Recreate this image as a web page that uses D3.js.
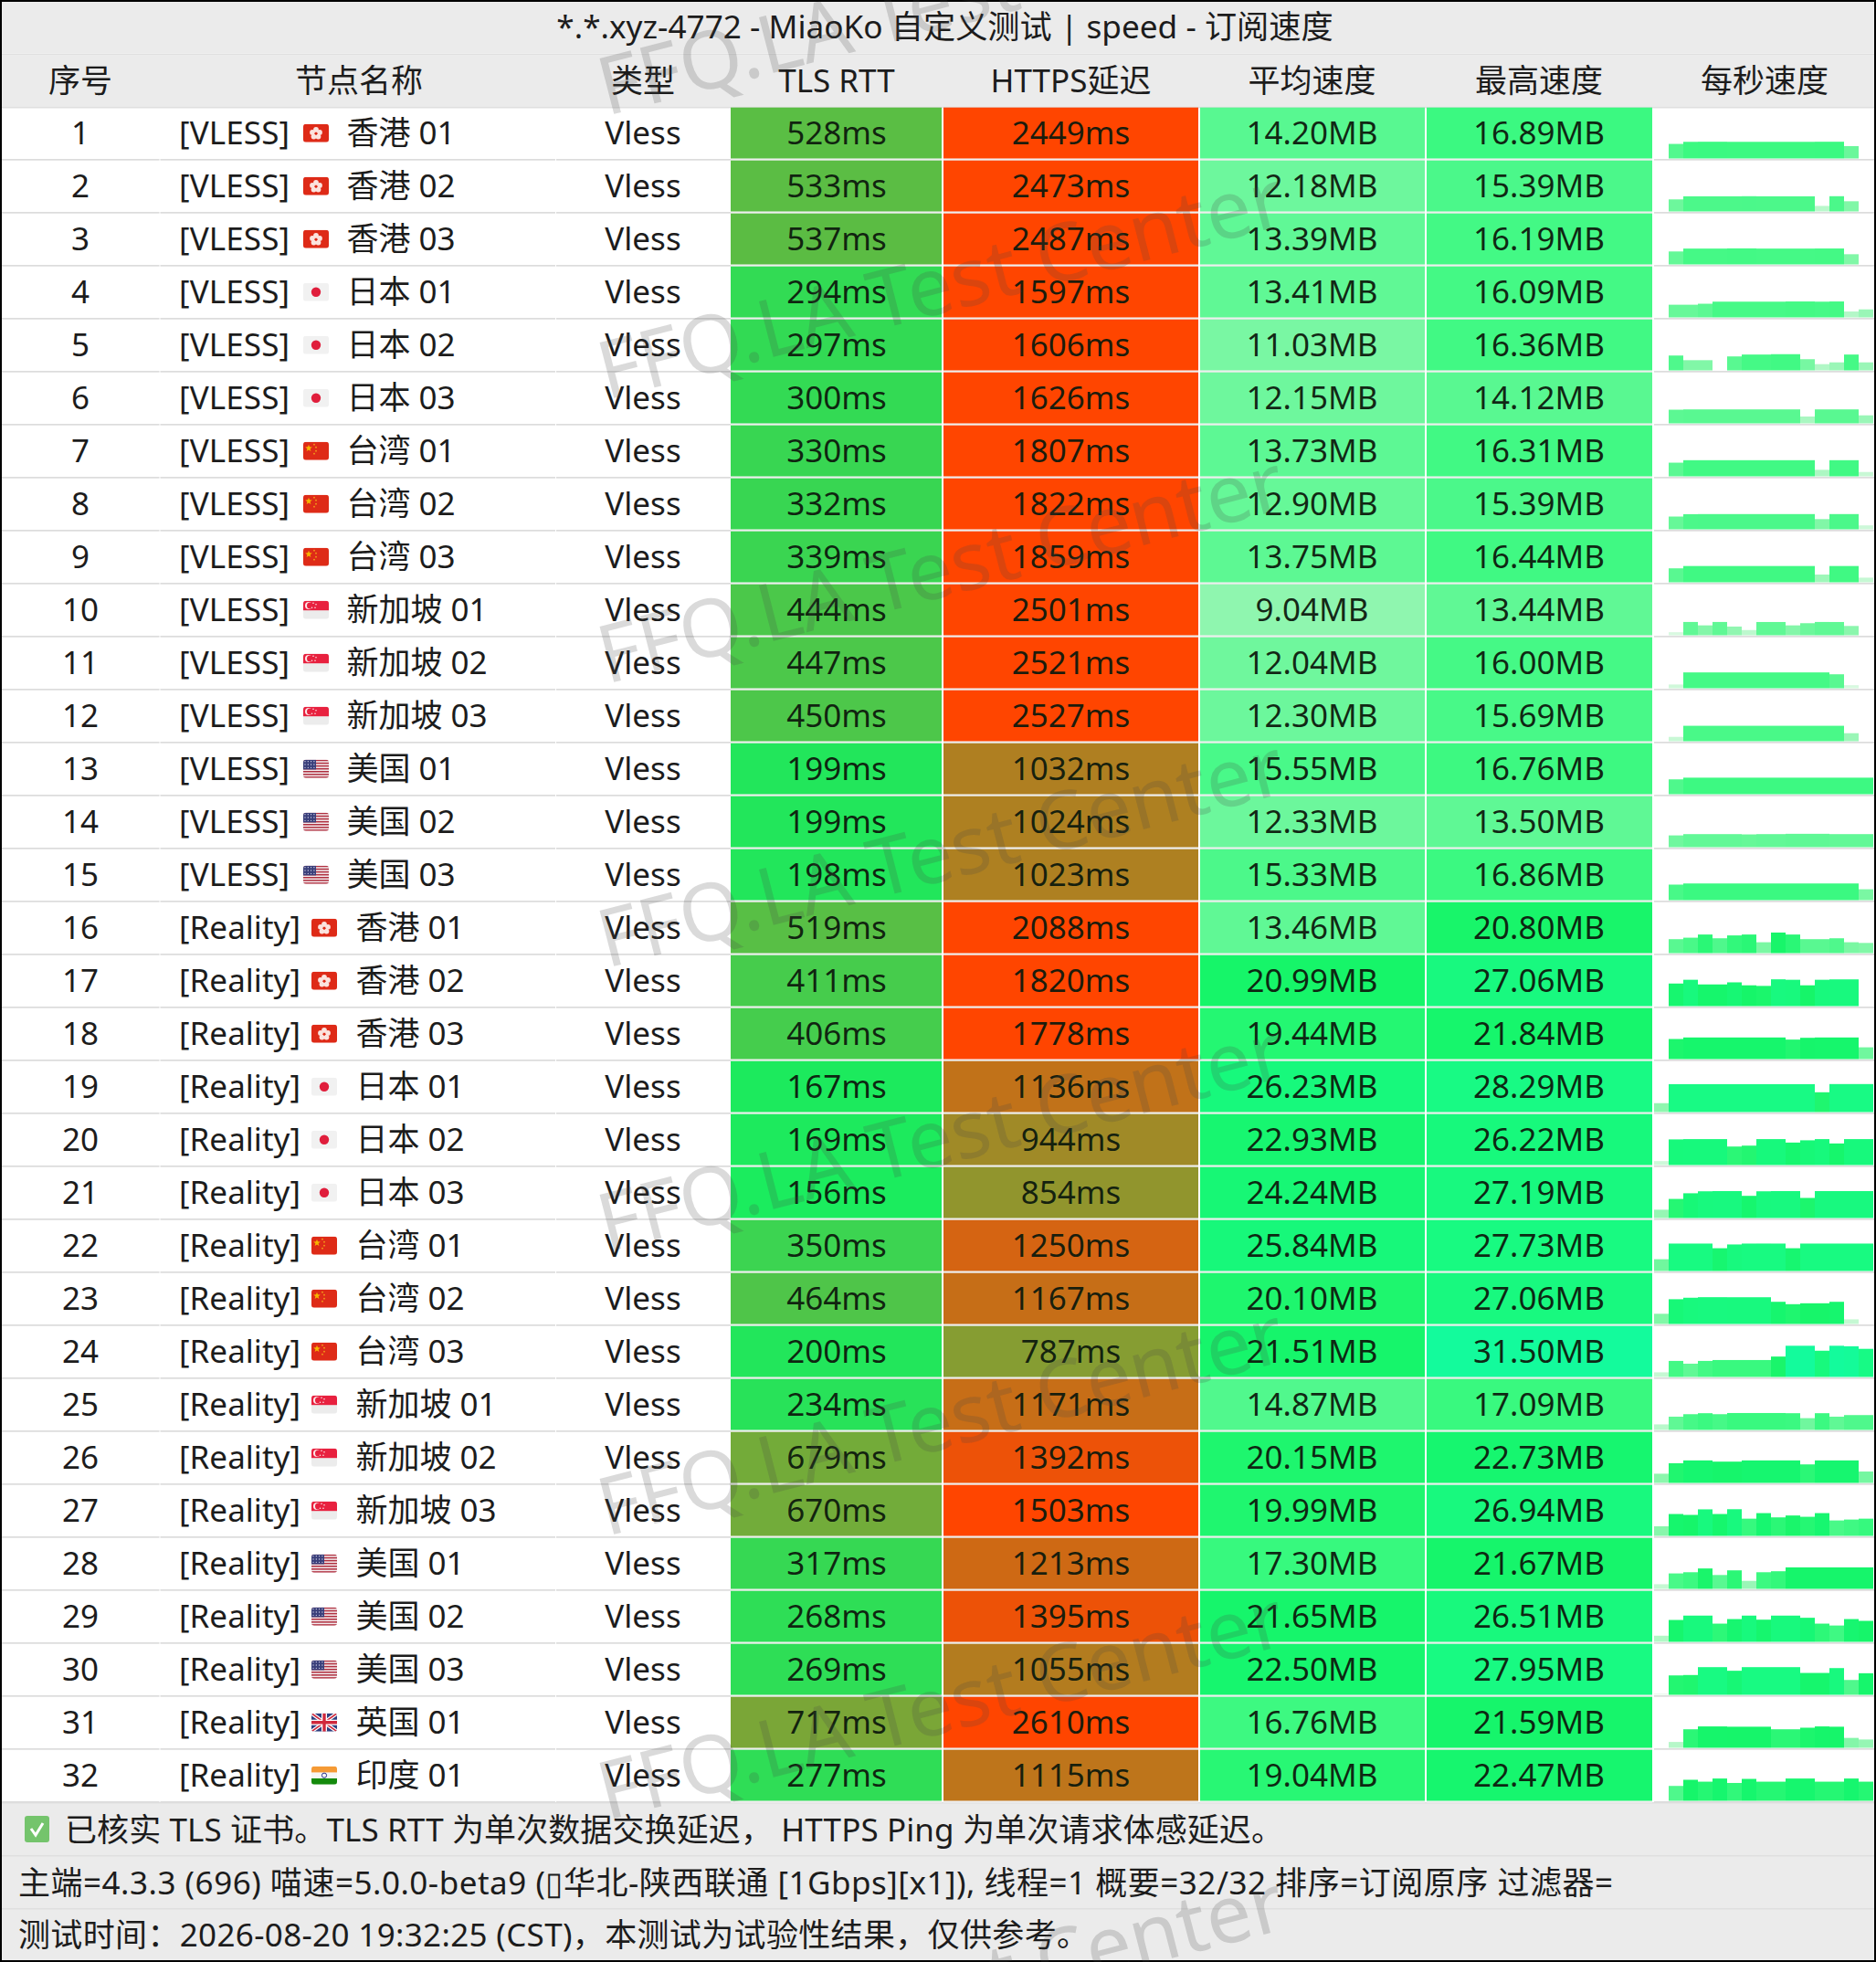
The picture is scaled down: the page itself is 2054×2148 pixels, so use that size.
<!DOCTYPE html>
<html><head><meta charset="utf-8">
<script src="https://cdn.jsdelivr.net/npm/d3@7/dist/d3.min.js"></script>
<style>
html,body{margin:0;padding:0;background:#000}
svg{display:block}
text{font-family:"Noto Sans","Noto Sans CJK SC",sans-serif;fill:#1c1c1c}
</style></head><body><div id="chart"></div>
<script>
const title = "*.*.xyz-4772 - MiaoKo 自定义测试 | speed - 订阅速度";
const headers = ["序号","节点名称","类型","TLS RTT","HTTPS延迟","平均速度","最高速度","每秒速度"];
const protocols = Array(15).fill("VLESS").concat(Array(17).fill("Reality"));
const regionNames = ["香港 01","香港 02","香港 03","日本 01","日本 02","日本 03","台湾 01","台湾 02","台湾 03","新加坡 01","新加坡 02","新加坡 03","美国 01","美国 02","美国 03","香港 01","香港 02","香港 03","日本 01","日本 02","日本 03","台湾 01","台湾 02","台湾 03","新加坡 01","新加坡 02","新加坡 03","美国 01","美国 02","美国 03","英国 01","印度 01"];
const flagCodes = ["hk","hk","hk","jp","jp","jp","cn","cn","cn","sg","sg","sg","us","us","us","hk","hk","hk","jp","jp","jp","cn","cn","cn","sg","sg","sg","us","us","us","gb","in"];
const tlsRtt = [528,533,537,294,297,300,330,332,339,444,447,450,199,199,198,519,411,406,167,169,156,350,464,200,234,679,670,317,268,269,717,277];
const httpsDelay = [2449,2473,2487,1597,1606,1626,1807,1822,1859,2501,2521,2527,1032,1024,1023,2088,1820,1778,1136,944,854,1250,1167,787,1171,1392,1503,1213,1395,1055,2610,1115];
const avgSpeed = [14.20,12.18,13.39,13.41,11.03,12.15,13.73,12.90,13.75,9.04,12.04,12.30,15.55,12.33,15.33,13.46,20.99,19.44,26.23,22.93,24.24,25.84,20.10,21.51,14.87,20.15,19.99,17.30,21.65,22.50,16.76,19.04];
const maxSpeed = [16.89,15.39,16.19,16.09,16.36,14.12,16.31,15.39,16.44,13.44,16.00,15.69,16.76,13.50,16.86,20.80,27.06,21.84,28.29,26.22,27.19,27.73,27.06,31.50,17.09,22.73,26.94,21.67,26.51,27.95,21.59,22.47];
const perSecond = [
[0,14.7,16.8,16.9,16.9,16.8,16.8,16.8,16.8,16.8,16.8,16.9,16.9,12.5,0],
[0,12.2,15.3,15.3,15.3,15.3,15.4,15.3,15.3,15.3,15.3,5.6,15.4,10.3,0],
[0,13.1,16,16,16,16.2,16.2,16,16,16,16,16.1,16.1,10.3,0],
[0,12.8,12.8,13.8,15.9,15.9,15.9,15.9,15.9,16.1,16.1,15.9,16.1,6,8.1],
[0,15,10.3,10.3,0,14.1,16,16,16.36,16.36,11.3,6.3,8.1,16,8.1],
[0,13.8,14.1,14.1,14.1,14.1,14.1,14.1,14.1,14.1,6.9,14.1,14.1,14.1,8.1],
[0,13.8,16.3,16.3,16.3,16.3,16.3,16.3,16.3,16.3,16.3,6.6,16.3,16.3,4.4],
[0,12.9,15.3,15.39,15.39,15.39,15.39,15.39,15.39,15.39,15.39,10.3,15.39,15.39,4],
[0,14.1,16.44,16.44,16.44,16.44,16.44,16.44,16.44,16.44,16.44,7.8,16.44,16.44,4.7],
[0,3.1,13.44,10,13.44,8.8,5.3,13.4,13.4,10,12.2,13.44,13.4,9.4,0],
[0,3.8,16,16,16,16,16,16,16,16,16,16,14.1,3.1,0],
[0,4.4,15.6,15.6,15.6,15.6,15.6,15.6,15.6,15.6,15.6,15.6,15.6,8.1,0],
[0,15,16.7,16.7,16.7,16.7,16.7,16.7,16.7,16.7,16.7,16.7,16.7,16.7,16.7],
[0,11.9,13.2,13.2,13.2,13.2,12.9,13.2,13.2,13.5,13.5,13.5,13.2,13.2,13.2],
[0,15.7,16.86,16.86,16.86,16.86,16.86,16.86,16.86,16.86,16.86,16.86,16.86,16.86,11],
[0,14.1,15.6,18.8,15,17.9,18.8,11,20.8,18.8,14.1,14.1,15,11,10.3],
[0,22.8,26.6,21.9,21.9,24,21,20.4,27.06,26.6,21,26.6,27,27,0],
[0,20.3,21.84,21.84,21.84,21.84,21.84,21.84,21.84,19.7,21.5,21.84,21.84,21.84,11.9],
[9,28.2,28.2,28.2,28.2,28.2,28.2,28.2,28.2,28.2,28.2,20,28.29,28.29,28.29],
[4,25.9,26.2,26.2,26.2,18.7,19.6,26.2,26.2,22.7,25,26.2,21.8,26.2,26.2],
[8.4,19.3,25,27,27.19,27.19,22.4,27,27.19,27.19,20.3,27.19,27.19,27.19,27.19],
[11.9,27.7,27.7,27.7,23,26.8,27.7,27.73,27.7,23,27.7,27.7,27.7,27.7,27.7],
[10.3,25,26.5,27.06,27.06,27,27,27,22.4,20,20.9,20.9,22.4,4.7,0],
[4.7,16.2,13.4,16.2,17.1,17.1,17.1,17.1,20.6,31.5,31.5,26.5,31.5,31,28.4],
[5.6,13.4,15.9,16.9,15.9,17.09,17.09,17.09,17.09,16.9,11.9,16.9,13.4,15,15],
[9.3,19.9,22.73,22.73,21.5,21.5,22.73,22.73,22.73,22.73,18.7,22.73,22.73,22.73,11.5],
[9.7,22.1,21.2,26.8,22.1,26.94,17.4,23,18.7,20.6,19.3,23,15.6,16.5,17.4],
[4.7,15.6,16.8,20.6,14,18.7,8.1,16.8,17.8,21.67,21.67,21.67,21.67,21.67,21.67],
[6.2,22.1,26.51,26.51,18.4,23,26.5,22.4,26.5,26.5,24.3,18.4,16.5,23,21.2],
[1.5,19.6,20,27.95,27.95,24.3,27.95,27.95,27.95,27.95,22.1,22.1,27,15,21.8],
[0,5.9,18.7,21.59,21.59,21.3,21.3,21.3,18.7,18.7,20.3,21.59,21.3,10,8.4],
[0,15,21.2,19.3,22.47,18,22.1,19.3,19.3,22.47,22.47,19.3,19.3,22.47,19.3]
];
const footerCheck = "已核实 TLS 证书。TLS RTT 为单次数据交换延迟， HTTPS Ping 为单次请求体感延迟。";
const footerInfo = "主端=4.3.3 (696) 喵速=5.0.0-beta9 (\u25AF华北-陕西联通 [1Gbps][x1]), 线程=1 概要=32/32 排序=订阅原序 过滤器=";
const footerTime = "测试时间：2026-08-20 19:32:25 (CST)，本测试为试验性结果，仅供参考。";
const watermark = "FFQ.LA Test Center";

const W=2054,H=2148,FS=35;
const rowIdx=d3.range(32);
const yRow=d3.scaleBand().domain(rowIdx).range([117.7,117.7+58*32]);
const cols={idx:[2,174.5],name:[175.5,608],type:[609,800],tls:[800,1031],https:[1033,1312],avg:[1314,1560],max:[1562,1809],spark:[1811,2052]};
const centers=[88,393,704,916,1172.5,1436.5,1685,1932];
const latencyColor=d3.scaleLinear().domain([0,1500]).range(["rgb(0,255,105)","rgb(255,69,0)"]).clamp(true).interpolate(d3.interpolateRgb);
const speedColor=d3.scaleLinear().domain([0,9,14,17,21,28,32])
  .range(["rgb(255,250,250)","rgb(143,246,175)","rgb(90,248,146)","rgb(58,249,128)","rgb(22,245,105)","rgb(24,250,130)","rgb(18,251,160)"])
  .clamp(true).interpolate(d3.interpolateRgb);
const xBin=d3.scaleBand().domain(d3.range(15)).range([1811,2051]);
const hBar=d3.scaleLinear().domain([0,32]).range([0,34.7]);

const svg=d3.select("#chart").append("svg").attr("width",W).attr("height",H).attr("viewBox",`0 0 ${W} ${H}`);
svg.append("rect").attr("width",W).attr("height",H).attr("fill","#000");
svg.append("rect").attr("x",2).attr("y",2).attr("width",W-4).attr("height",H-4).attr("fill","#fff");
[[2,56],[60,57],[1974,57],[2032,57],[2090,56]].forEach(b=>svg.append("rect").attr("x",2).attr("y",b[0]).attr("width",W-4).attr("height",b[1]).attr("fill","#ebebeb"));
[[58.5],[117],[1973],[2031],[2089]].forEach(b=>svg.append("rect").attr("x",2).attr("y",b[0]).attr("width",W-4).attr("height",1.5).attr("fill","#dfdfdf"));

svg.append("text").attr("x",1034.5).attr("y",42).attr("text-anchor","middle").attr("font-size",35.2).text(title);
svg.selectAll("text.hd").data(headers).join("text").attr("class","hd").attr("x",(d,i)=>centers[i]).attr("y",100.5).attr("text-anchor","middle").attr("font-size",FS).text(d=>d);

const rows=svg.selectAll("g.row").data(rowIdx).join("g").attr("class","row").attr("transform",d=>`translate(0,${yRow(d)})`);
Object.values(cols).forEach(c=>rows.append("rect").attr("x",c[0]).attr("y",56.3).attr("width",c[1]-c[0]).attr("height",1.7).attr("fill","#dcdcdc"));
const cells=[["tls",tlsRtt,latencyColor,d=>d+"ms"],["https",httpsDelay,latencyColor,d=>d+"ms"],["avg",avgSpeed,speedColor,d=>d.toFixed(2)+"MB"],["max",maxSpeed,speedColor,d=>d.toFixed(2)+"MB"]];
const BL=40.6;
rows.append("text").attr("x",centers[0]).attr("y",BL).attr("text-anchor","middle").attr("font-size",FS).text(d=>d+1);
rows.append("text").attr("x",196).attr("y",BL).attr("font-size",FS).attr("textLength",d=>protocols[d]==="VLESS"?121:133).text(d=>`[${protocols[d]}]`);
rows.append("text").attr("x",d=>protocols[d]==="VLESS"?379.5:389.5).attr("y",BL).attr("font-size",FS).text(d=>regionNames[d]);
rows.append("text").attr("x",centers[2]).attr("y",BL).attr("text-anchor","middle").attr("font-size",FS).text("Vless");
cells.forEach(([k,vals,color,fmt],ci)=>{
  const [a,b]=cols[k];
  rows.append("rect").attr("x",a).attr("y",0).attr("width",b-a).attr("height",56).attr("fill",d=>color(vals[d]));
  rows.append("rect").attr("x",a).attr("y",56).attr("width",b-a).attr("height",2).attr("fill","#eeeeee");
  rows.append("text").attr("x",centers[3+ci]).attr("y",BL).attr("text-anchor","middle").attr("font-size",FS).attr("fill-opacity",.95).style("fill","#0d1a0d").text(d=>fmt(vals[d]));
});
rows.each(function(r){
  d3.select(this).selectAll("rect.bar").data(perSecond[r]).join("rect").attr("class","bar")
    .attr("x",(d,i)=>xBin(i)).attr("width",xBin.bandwidth())
    .attr("y",d=>55.8-hBar(d)).attr("height",d=>hBar(d)).attr("fill",d=>speedColor(d));
});
const defs=svg.append("defs");
defs.append("clipPath").attr("id","fc").append("rect").attr("width",28).attr("height",20).attr("rx",3);
const star=(g,cx,cy,r,fill)=>{const p=d3.range(10).map(i=>{const a=-Math.PI/2+i*Math.PI/5,q=i%2?r*.42:r;return [cx+q*Math.cos(a),cy+q*Math.sin(a)]});g.append("polygon").attr("points",p.join(" ")).attr("fill",fill)};
const flagDraw={
 hk(g){g.append("rect").attr("width",28).attr("height",20).attr("fill","#de2a17");d3.range(5).forEach(i=>{const a=-Math.PI/2+i*2*Math.PI/5;g.append("circle").attr("cx",14+4.2*Math.cos(a)).attr("cy",10.5+4.2*Math.sin(a)).attr("r",2.9).attr("fill","#fbe3de")});g.append("circle").attr("cx",14).attr("cy",10.5).attr("r",1.4).attr("fill","#de2a17")},
 jp(g){g.append("rect").attr("width",28).attr("height",20).attr("fill","#f1f1f1");g.append("circle").attr("cx",14).attr("cy",10).attr("r",5.2).attr("fill","#e01e3c")},
 cn(g){g.append("rect").attr("width",28).attr("height",20).attr("fill","#de2b17");star(g,6,7,4,"#f7b500");[[12,3],[14,6],[14,10],[12,13]].forEach(p=>g.append("circle").attr("cx",p[0]).attr("cy",p[1]).attr("r",.9).attr("fill","#f4a21a"))},
 sg(g){g.append("rect").attr("width",28).attr("height",20).attr("fill","#ececec");g.append("rect").attr("width",28).attr("height",10.5).attr("fill","#e8213f");g.append("circle").attr("cx",6).attr("cy",5.3).attr("r",4).attr("fill","#fbe8e8");g.append("circle").attr("cx",7.6).attr("cy",5.3).attr("r",3.6).attr("fill","#e8213f");[[11,2.5],[14,4],[13,7.5],[9.5,7.5]].forEach(p=>g.append("circle").attr("cx",p[0]).attr("cy",p[1]).attr("r",.8).attr("fill","#fbe8e8"))},
 us(g){g.append("rect").attr("width",28).attr("height",20).attr("fill","#f4eef0");d3.range(0,7).forEach(i=>g.append("rect").attr("y",i*20/6.5).attr("width",28).attr("height",1.54).attr("fill","#b03040"));g.append("rect").attr("width",14).attr("height",10.7).attr("fill","#3a3f7a");d3.range(3).forEach(i=>d3.range(4).forEach(j=>g.append("circle").attr("cx",2+j*3.3).attr("cy",2+i*3.3).attr("r",.65).attr("fill","#dcdcf0")))},
 gb(g){g.append("rect").attr("width",28).attr("height",20).attr("fill","#2f3f80");g.append("path").attr("d","M0 0L28 20M28 0L0 20").attr("stroke","#fff").attr("stroke-width",4);g.append("path").attr("d","M0 0L28 20M28 0L0 20").attr("stroke","#d0283c").attr("stroke-width",1.6);g.append("path").attr("d","M14 0V20M0 10H28").attr("stroke","#fff").attr("stroke-width",6);g.append("path").attr("d","M14 0V20M0 10H28").attr("stroke","#d0283c").attr("stroke-width",3.4)},
 in(g){g.append("rect").attr("width",28).attr("height",20).attr("fill","#f6f6f6");g.append("rect").attr("width",28).attr("height",6.7).attr("fill","#f59a35");g.append("rect").attr("y",13.3).attr("width",28).attr("height",6.7).attr("fill","#148a0c");g.append("circle").attr("cx",14).attr("cy",10).attr("r",2.6).attr("fill","none").attr("stroke","#27318c").attr("stroke-width",1)}
};
rows.each(function(r){
  const g=d3.select(this).append("g").attr("transform",`translate(${protocols[r]==="VLESS"?332:341},18)`).attr("clip-path","url(#fc)");
  flagDraw[flagCodes[r]](g);
});
const ck=svg.append("g").attr("transform","translate(27,1988)");
ck.append("rect").attr("width",27).attr("height",29).attr("rx",3).attr("fill","#74c46c");
ck.append("path").attr("d","M7 14L12 21L20 8").attr("fill","none").attr("stroke","#fff").attr("stroke-width",3);
svg.append("text").attr("x",71).attr("y",2015.5).attr("font-size",FS).attr("textLength",1334).text(footerCheck);
svg.append("text").attr("x",20).attr("y",2073.5).attr("font-size",FS).attr("textLength",1746).text(footerInfo);
svg.append("text").attr("x",20).attr("y",2131).attr("font-size",FS).attr("textLength",1172).text(footerTime);
svg.selectAll("text.wm").data(d3.range(8)).join("text").attr("class","wm")
  .attr("transform",d=>`translate(664,${127+311*d}) rotate(-14.5)`).attr("font-size",88)
  .style("fill","rgba(70,70,70,.2)").text(watermark);
</script></body></html>
